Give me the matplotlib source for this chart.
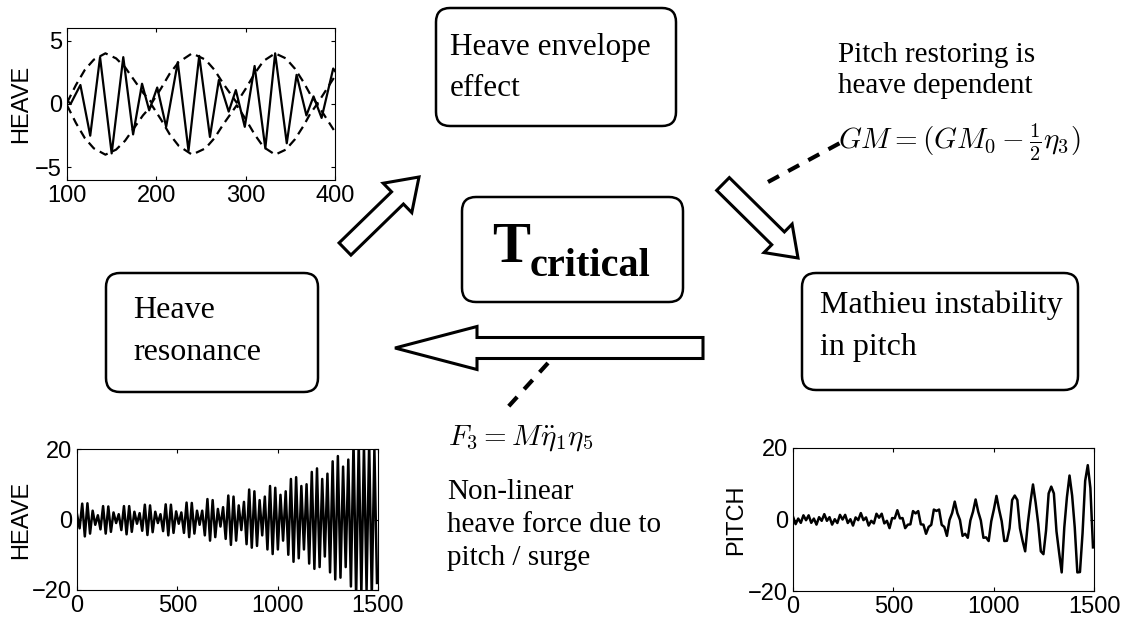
import numpy as np
import matplotlib.pyplot as plt
from matplotlib.patches import FancyBboxPatch, FancyArrow

plt.rcParams['mathtext.fontset'] = 'cm'
SERIF = 'Liberation Serif'
SANS = 'Liberation Sans'

# heave record over t = 100..400 (turning points)
heave_t = [100, 104, 115, 126, 137, 150, 163, 174, 184, 192, 201, 211, 224, 236,
           248, 260, 270, 281, 289, 299, 310, 322, 333, 346, 357, 368, 376, 385,
           398, 400]
heave_z = [0.3, 0.0, 1.5, -2.5, 3.7, -3.9, 3.7, -2.4, 1.6, -0.5, 1.3, -1.8, 3.3,
           -3.7, 3.8, -2.6, 1.9, -0.6, 1.1, -1.8, 3.0, -3.5, 4.0, -3.1, 2.3,
           -0.9, 0.6, -1.1, 2.8, 2.6]

# beat envelope of the heave record
env_t = [100, 110, 120, 130, 143, 155, 165, 175, 185, 195, 205, 215, 225, 240,
         255, 265, 275, 290, 300, 310, 320, 333, 345, 355, 365, 372, 380, 390, 400]
env_z = [0.1, 1.5, 2.7, 3.5, 4.0, 3.6, 2.9, 1.9, 0.9, 0.1, 1.2, 2.4, 3.3, 4.0,
         3.5, 2.7, 1.6, 0.1, 1.2, 2.4, 3.4, 4.0, 3.6, 2.8, 1.7, 0.8, 0.0, 1.1, 2.2]

# long heave record, one value per half period
dt_half = 13
heave_long = [
    1.5, -2.5, 4.5, -4.8, 4.6, -4.0, 2.5, -1.5,
    1.2, -2.8, 3.8, -4.0, 3.7, -3.5, 2.0, -1.0,
    1.5, -3.0, 3.8, -4.2, 3.8, -3.5, 2.2, -1.2,
    1.8, -3.2, 4.2, -4.4, 4.0, -3.6, 2.2, -1.0,
    1.5, -3.3, 4.3, -4.5, 4.2, -3.8, 2.3, -1.2,
    2.0, -3.8, 4.8, -5.0, 4.7, -4.0, 2.5, -1.5,
    2.5, -4.5, 5.8, -6.0, 5.5, -5.0, 3.0, -2.0,
    3.5, -5.5, 6.8, -7.2, 6.5, -6.0, 4.0, -3.0,
    5.0, -7.0, 8.5, -8.0, 8.0, -7.5, 5.5, -4.5,
    6.5, -8.5, 9.5, -9.8, 9.0, -8.5, 7.0, -6.0,
    8.0, -10.0, 11.5, -12.0, 12.0, -11.0, 9.5, -8.5,
    10.0, -12.5, 13.5, -14.0, 14.5, -13.5, 11.5, -10.5,
    13.0, -15.0, 16.5, -17.0, 18.0, -16.5, 15.0, -13.5,
    17.0, -19.0, 22.0, -22.0, 22.0, -21.0, 21.0, -20.0,
    22.0, -22.0, 20.0, -18.0,
]

# pitch record, same sampling
pitch_long = [
    0.8, -1.3, 0.26, -0.93, 1.17, -0.2, 1.17, -0.93, 0.26, -1.43,
    0.65, -0.37, 1.5, -0.37, 0.65, -1.43, 0.08, -0.98, 1.3, 0.0,
    1.3, -0.98, 0.08, -1.7, 0.58, -0.18, 1.8, -0.18, 0.58, -1.7,
    -0.37, -1.09, 1.61, 0.5, 1.61, -1.09, -0.37, -2.42, 0.4, 0.32,
    2.6, 0.32, 0.4, -2.42, -1.45, -1.35, 2.35, 1.7, 2.35, -1.35,
    -1.45, -4.0, -2.08, -1.5, 2.78, 2.4, 2.78, -1.5, -2.08, -4.58,
    -0.12, 1.8, 5.0, 1.8, -0.12, -4.58, -4.0, -5.12, -0.26, 2.18,
    5.6, 2.18, -0.26, -5.12, -5.0, -6.02, -0.48, 2.8, 6.6, 2.8,
    -0.48, -6.02, -5.95, -2.45, 5.45, 6.7, 5.45, -2.45, -5.95, -8.9,
    -1.18, 4.78, 9.8, 4.78, -1.18, -8.9, -9.7, -3.1, 7.3, 9.2,
    7.3, -3.3, -9.2, -14.8, -2.2, 6.2, 12.3, 6.7, -2.2, -14.8,
    -14.7, -3.8, 10.8, 15.2, 8.8, -7.8,
]

t_long = np.arange(len(heave_long)) * dt_half
t_pitch = np.arange(len(pitch_long)) * dt_half

fig = plt.figure(figsize=(11.26, 6.24), dpi=100)

# drawing layer in pixel units (y downwards)
ax0 = fig.add_axes([0, 0, 1, 1])
ax0.set_xlim(0, 1126)
ax0.set_ylim(624, 0)
ax0.axis('off')


def rbox(x0, y0, x1, y1):
    ax0.add_patch(FancyBboxPatch((x0, y0), x1 - x0, y1 - y0,
                                 boxstyle='round,pad=0,rounding_size=14',
                                 fc='white', ec='black', lw=1.8))


def arrow(x0, y0, x1, y1, w, hw, hl):
    ax0.add_patch(FancyArrow(x0, y0, x1 - x0, y1 - y0, width=w, head_width=hw,
                             head_length=hl, length_includes_head=True,
                             fc='white', ec='black', lw=2.2))


rbox(436, 8, 676, 126)
rbox(462, 197, 683, 302)
rbox(106, 273, 318, 392)
rbox(802, 273, 1078, 390)

arrow(345, 249, 419, 177, 17, 41, 30)
arrow(723, 184, 798, 258, 18, 40, 28)
arrow(703, 348, 395, 348, 21, 43, 82)

ax0.plot([768, 840], [182, 143], color='black', lw=3, ls=(0, (3, 2.5)))
ax0.plot([548, 508], [363, 407], color='black', lw=3, ls=(0, (3, 2.5)))

fs = 23
ax0.text(450, 48, 'Heave envelope', family=SERIF, fontsize=22.5, va='center')
ax0.text(450, 89, 'effect', family=SERIF, fontsize=22.5, va='center')
ax0.text(133, 310, 'Heave', family=SERIF, fontsize=fs, va='center')
ax0.text(133, 353, 'resonance', family=SERIF, fontsize=fs, va='center')
ax0.text(820, 305, 'Mathieu instability', family=SERIF, fontsize=fs, va='center')
ax0.text(820, 347, 'in pitch', family=SERIF, fontsize=fs, va='center')

ax0.text(492, 262, 'T', family=SERIF, fontsize=41, fontweight='bold', va='baseline')
ax0.text(530, 276, 'critical', family=SERIF, fontsize=29, fontweight='bold', va='baseline')

fs2 = 21
ax0.text(838, 55, 'Pitch restoring is', family=SERIF, fontsize=fs2, va='center')
ax0.text(838, 86, 'heave dependent', family=SERIF, fontsize=fs2, va='center')
ax0.text(838, 142, r'$GM = (GM_0 - \frac{1}{2}\eta_3)$', fontsize=fs2, va='center')

ax0.text(448, 438, r'$F_3 = M\ddot{\eta}_1\eta_5$', fontsize=fs2, va='center')
ax0.text(447, 492, 'Non-linear', family=SERIF, fontsize=fs2, va='center')
ax0.text(447, 525, 'heave force due to', family=SERIF, fontsize=fs2, va='center')
ax0.text(447, 558, 'pitch / surge', family=SERIF, fontsize=fs2, va='center')


def inset(px0, py0, px1, py1):
    ax = fig.add_axes([px0 / 1126, 1 - py1 / 624, (px1 - px0) / 1126, (py1 - py0) / 624])
    ax.tick_params(direction='in', length=3, top=True, right=True,
                   labelsize=17, width=0.8)
    for s in ax.spines.values():
        s.set_linewidth(0.8)
    return ax


# heave envelope
ax1 = inset(67, 28, 335, 180)
ax1.plot(heave_t, heave_z, color='black', lw=1.6)
ax1.plot(env_t, env_z, color='black', lw=1.6, ls=(0, (4, 2.5)))
ax1.plot(env_t, [-v for v in env_z], color='black', lw=1.6, ls=(0, (4, 2.5)))
ax1.set_xlim(100, 400)
ax1.set_ylim(-6, 6)
ax1.set_xticks([100, 200, 300, 400])
ax1.set_yticks([-5, 0, 5])
ax1.set_ylabel('HEAVE', family=SANS, fontsize=17)
ax1.yaxis.set_label_coords(-0.13, 0.5)

# heave growth
ax2 = inset(77, 449, 378, 590)
ax2.plot(t_long, heave_long, color='black', lw=1.8)
ax2.set_xlim(0, 1500)
ax2.set_ylim(-20, 20)
ax2.set_xticks([0, 500, 1000, 1500])
ax2.set_yticks([-20, 0, 20])
ax2.set_ylabel('HEAVE', family=SANS, fontsize=17)
ax2.yaxis.set_label_coords(-0.15, 0.5)

# pitch growth
ax3 = inset(793, 448, 1094, 591)
ax3.plot(t_pitch, pitch_long, color='black', lw=1.8)
ax3.set_xlim(0, 1500)
ax3.set_ylim(-20, 20)
ax3.set_xticks([0, 500, 1000, 1500])
ax3.set_yticks([-20, 0, 20])
ax3.set_ylabel('PITCH', family=SANS, fontsize=17)
ax3.yaxis.set_label_coords(-0.153, 0.5)

for ax in (ax1, ax2, ax3):
    for lab in ax.get_xticklabels() + ax.get_yticklabels():
        lab.set_family(SANS)

fig.savefig('out.png', dpi=100)
